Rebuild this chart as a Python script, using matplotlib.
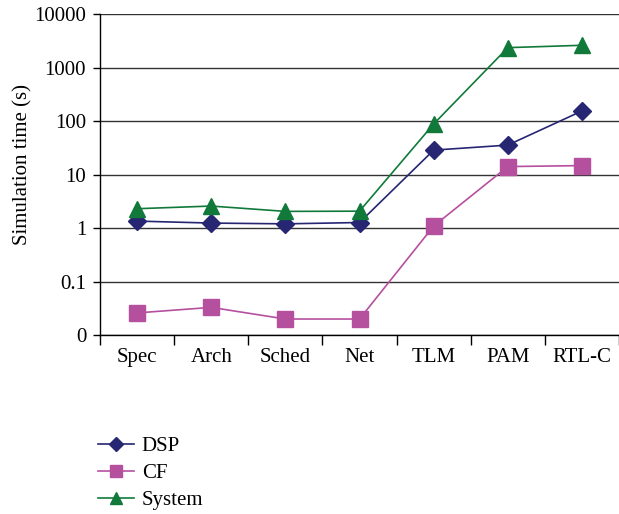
import matplotlib
matplotlib.use('Agg')
import matplotlib.pyplot as plt
from matplotlib.ticker import FixedLocator, NullLocator

plt.rcParams['font.family'] = ['Liberation Serif', 'DejaVu Serif']

stages = ['Spec', 'Arch', 'Sched', 'Net', 'TLM', 'PAM', 'RTL-C']
dsp = [1.35, 1.24, 1.2, 1.27, 28.6, 35.5, 154]
cf = [0.026, 0.033, 0.020, 0.020, 1.09, 14.1, 14.7]
system = [2.3, 2.58, 2.05, 2.07, 88, 2350, 2600]

yticks = [0.01, 0.1, 1, 10, 100, 1000, 10000]
ytick_labels = ['0', '0.1', '1', '10', '100', '1000', '10000']

fig = plt.figure(figsize=(6.19, 5.14), dpi=100)
ax = fig.add_axes([0.1616, 0.348, 0.8384, 0.6248])

x = [i + 0.5 for i in range(len(stages))]
ax.plot(x, dsp, color='#262673', marker='D', markersize=9, lw=1.2, label='DSP')
ax.plot(x, cf, color='#b5509f', marker='s', markersize=11, lw=1.2, label='CF')
ax.plot(x, system, color='#117a3a', marker='^', markersize=11, lw=1.2, label='System')

ax.set_yscale('log')
ax.set_ylim(0.01, 10000)
ax.yaxis.set_major_locator(FixedLocator(yticks))
ax.yaxis.set_minor_locator(NullLocator())
ax.set_yticklabels(ytick_labels)
ax.grid(axis='y', color='#333333', lw=1.0)
ax.set_axisbelow(True)

ax.set_xlim(0, len(stages))
ax.set_xticks(range(len(stages) + 1))
ax.set_xticklabels([])
ax.set_xticks(x, minor=True)
ax.set_xticklabels(stages, minor=True)
ax.tick_params(axis='x', which='major', direction='out', length=7, width=1)
ax.tick_params(axis='x', which='minor', length=0, pad=9)
ax.tick_params(axis='y', direction='out', length=5, width=1, pad=5)
ax.tick_params(which='both', labelsize=15)

for s in ['top', 'right']:
    ax.spines[s].set_visible(False)
ax.spines['left'].set_linewidth(1)
ax.spines['bottom'].set_linewidth(1)

ax.set_ylabel('Simulation time (s)', fontsize=15)
ax.yaxis.set_label_coords(-0.131, 0.53)

fig.legend(loc='upper left', bbox_to_anchor=(0.145, 0.167), frameon=False,
           fontsize=15, handlelength=1.7, handletextpad=0.4, labelspacing=0.35,
           markerscale=0.8, borderaxespad=0)

fig.savefig('out.png', dpi=100)
